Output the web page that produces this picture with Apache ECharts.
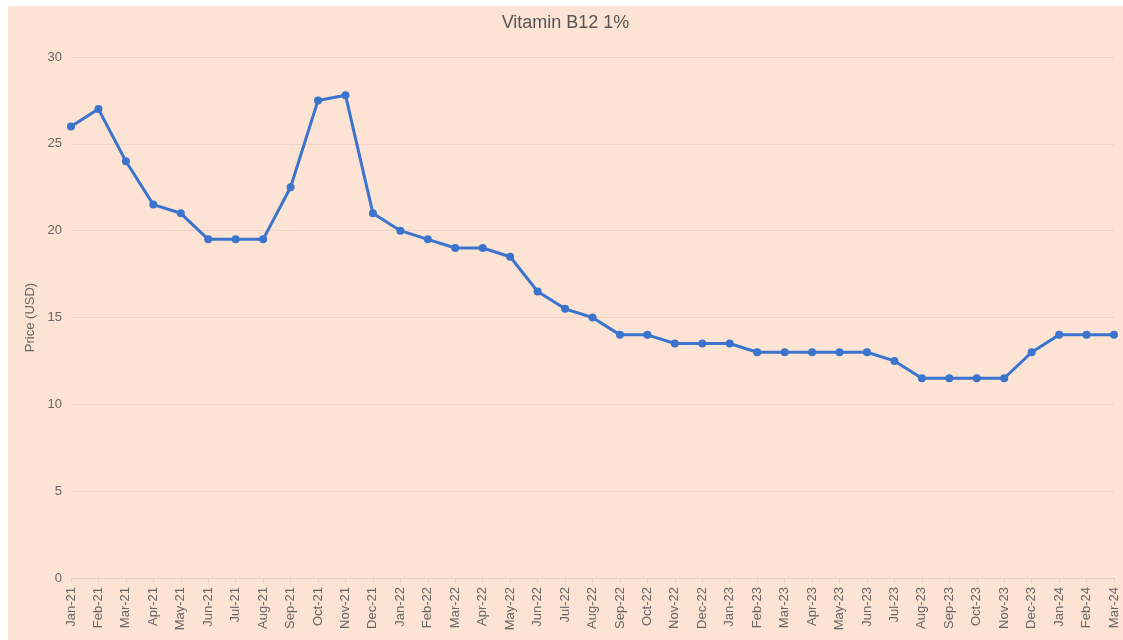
<!DOCTYPE html>
<html>
<head>
<meta charset="utf-8">
<script src="https://cdn.jsdelivr.net/npm/echarts@6/dist/echarts.min.js"></script>
<style>
  html, body { margin: 0; padding: 0; background: #fff; }
  #chart { position: absolute; left: 8px; top: 6px; width: 1115px; height: 634px; background: #fde3d4; }
</style>
</head>
<body>
<div id="chart"></div>
<script>
// 月份
const months = [
  'Jan-21', 'Feb-21', 'Mar-21', 'Apr-21', 'May-21', 'Jun-21', 'Jul-21', 'Aug-21', 'Sep-21', 'Oct-21', 'Nov-21', 'Dec-21',
  'Jan-22', 'Feb-22', 'Mar-22', 'Apr-22', 'May-22', 'Jun-22', 'Jul-22', 'Aug-22', 'Sep-22', 'Oct-22', 'Nov-22', 'Dec-22',
  'Jan-23', 'Feb-23', 'Mar-23', 'Apr-23', 'May-23', 'Jun-23', 'Jul-23', 'Aug-23', 'Sep-23', 'Oct-23', 'Nov-23', 'Dec-23',
  'Jan-24', 'Feb-24', 'Mar-24'
]
// 价格 (USD)
const prices = [
  26, 27, 24, 21.5, 21, 19.5, 19.5, 19.5, 22.5, 27.5, 27.8, 21,
  20, 19.5, 19, 19, 18.5, 16.5, 15.5, 15, 14, 14, 13.5, 13.5,
  13.5, 13, 13, 13, 13, 13, 12.5, 11.5, 11.5, 11.5, 11.5, 13,
  14, 14, 14
]
const yTicks = [0, 5, 10, 15, 20, 25, 30]

const chart = echarts.init(document.getElementById('chart'))
const option = {
  backgroundColor: '#fde3d4',
  textStyle: { fontFamily: 'Helvetica, Arial, sans-serif' },
  title: {
    text: 'Vitamin B12 1%',
    left: 'center',
    top: 3,
    textStyle: { fontSize: 18, fontWeight: 'normal', color: '#555' }
  },
  grid: { left: 63, right: 9, top: 51, bottom: 62 },
  xAxis: {
    type: 'category',
    data: months,
    boundaryGap: false,
    axisLine: { lineStyle: { color: '#e2d2ca' } },
    axisTick: { lineStyle: { color: '#e2d2ca' }, length: 5 },
    axisLabel: { rotate: 90, interval: 0, color: '#666', fontSize: 13, margin: 9 }
  },
  yAxis: {
    type: 'value',
    min: yTicks[0],
    max: yTicks[yTicks.length - 1],
    interval: 5,
    name: 'Price (USD)',
    nameLocation: 'middle',
    nameGap: 28,
    nameTextStyle: { color: '#666', fontSize: 13 },
    axisLine: { show: false },
    axisTick: { show: false },
    axisLabel: { color: '#666', fontSize: 13, margin: 9 },
    splitLine: { lineStyle: { color: '#f2d2c6' } }
  },
  series: [{
    type: 'line',
    data: prices,
    symbol: 'circle',
    symbolSize: 8,
    lineStyle: { color: '#3a74cc', width: 3 },
    itemStyle: { color: '#3a74cc' }
  }]
}
chart.setOption(option)
</script>
</body>
</html>
